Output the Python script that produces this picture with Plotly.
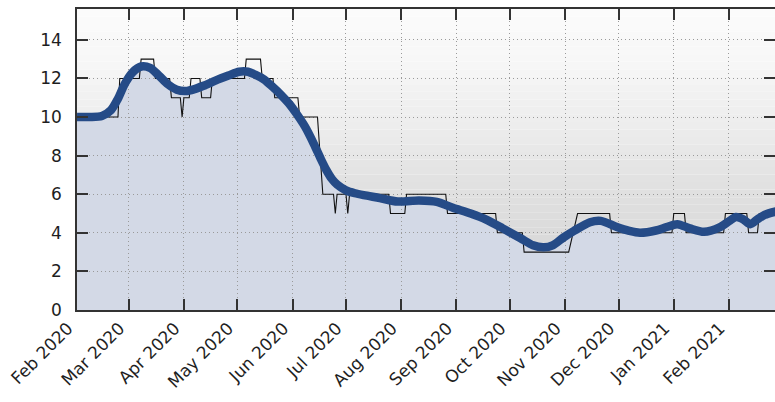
import numpy as np
import plotly.graph_objects as go

# ---- data ----
# stepped daily series: runs of constant value
step_start = ["2020-02-01", "2020-02-25", "2020-03-08", "2020-03-16", "2020-03-25", "2020-03-31",
              "2020-04-01", "2020-04-05", "2020-04-11", "2020-04-17", "2020-05-06", "2020-05-15",
              "2020-05-22", "2020-06-05", "2020-06-18", "2020-06-25", "2020-06-26", "2020-07-02",
              "2020-07-03", "2020-07-26", "2020-08-04", "2020-08-27", "2020-09-24", "2020-10-09",
              "2020-11-08", "2020-11-27", "2021-01-01", "2021-01-08", "2021-01-30", "2021-02-12",
              "2021-02-18"]
step_end = ["2020-02-24", "2020-03-07", "2020-03-15", "2020-03-24", "2020-03-30", "2020-03-31",
            "2020-04-04", "2020-04-10", "2020-04-16", "2020-05-05", "2020-05-14", "2020-05-21",
            "2020-06-04", "2020-06-15", "2020-06-24", "2020-06-25", "2020-07-01", "2020-07-02",
            "2020-07-25", "2020-08-03", "2020-08-26", "2020-09-23", "2020-10-08", "2020-11-03",
            "2020-11-26", "2020-12-31", "2021-01-07", "2021-01-29", "2021-02-11", "2021-02-17",
            "2021-02-28"]
step_value = [10, 12, 13, 12, 11, 10, 11, 12, 11, 12, 13, 12, 11, 10, 6, 5, 6, 5, 6, 5, 6, 5, 4, 3,
              5, 4, 5, 4, 5, 4, 5]

# smoothed trend
smooth_dates = ["2020-02-01", "2020-02-08", "2020-02-15", "2020-02-20", "2020-02-24", "2020-02-28",
                "2020-03-03", "2020-03-08", "2020-03-13", "2020-03-18", "2020-03-23", "2020-03-28",
                "2020-04-02", "2020-04-07", "2020-04-12", "2020-04-19", "2020-04-26", "2020-05-02",
                "2020-05-07", "2020-05-11", "2020-05-16", "2020-05-21", "2020-05-25", "2020-05-30",
                "2020-06-03", "2020-06-08", "2020-06-13", "2020-06-17", "2020-06-20", "2020-06-23",
                "2020-06-26", "2020-07-01", "2020-07-06", "2020-07-11", "2020-07-20", "2020-07-30",
                "2020-08-11", "2020-08-21", "2020-08-30", "2020-09-09", "2020-09-18", "2020-09-27",
                "2020-10-07", "2020-10-14", "2020-10-20", "2020-10-25", "2020-10-31", "2020-11-06",
                "2020-11-15", "2020-11-21", "2020-11-30", "2020-12-07", "2020-12-13", "2020-12-22",
                "2020-12-28", "2021-01-03", "2021-01-10", "2021-01-18", "2021-01-27", "2021-02-01",
                "2021-02-05", "2021-02-09", "2021-02-13", "2021-02-17", "2021-02-21", "2021-02-28"]
smooth_values = [10.0, 10.0, 10.05, 10.35, 10.95, 11.75,
                 12.3, 12.62, 12.55, 12.15, 11.7, 11.42,
                 11.35, 11.45, 11.62, 11.9, 12.15, 12.35,
                 12.35, 12.2, 11.95, 11.55, 11.2, 10.7,
                 10.2, 9.5, 8.6, 7.8, 7.25, 6.8,
                 6.5, 6.2, 6.05, 5.95, 5.8, 5.62,
                 5.67, 5.6, 5.3, 5.0, 4.67, 4.23,
                 3.72, 3.35, 3.25, 3.35, 3.75, 4.1,
                 4.55, 4.62, 4.3, 4.1, 4.0, 4.12,
                 4.3, 4.45, 4.23, 4.05, 4.3, 4.6,
                 4.82, 4.7, 4.45, 4.7, 4.93, 5.12]

y_ticks = [0, 2, 4, 6, 8, 10, 12, 14]
x_range = ["2020-02-01", "2021-02-26 20:00"]
y_range = [0, 15.6]

# ---- build stepped line points from runs ----
step_x, step_y = [], []
for s, e, v in zip(step_start, step_end, step_value):
    step_x.append(s)
    step_y.append(v)
    if e != s:
        step_x.append(e)
        step_y.append(v)

fig = go.Figure()

# filled area (lower subplot, below grid)
fig.add_trace(go.Scatter(x=smooth_dates, y=smooth_values, mode="lines",
                         line=dict(width=0, shape="spline", smoothing=0.8),
                         fill="tozeroy", fillcolor="#d3d9e6",
                         xaxis="x", yaxis="y", hoverinfo="skip", showlegend=False))
# stepped raw line (upper subplot)
fig.add_trace(go.Scatter(x=step_x, y=step_y, mode="lines",
                         line=dict(color="#111111", width=1.1),
                         xaxis="x2", yaxis="y2", showlegend=False))
# smooth thick line
fig.add_trace(go.Scatter(x=smooth_dates, y=smooth_values, mode="lines",
                         line=dict(color="#254b87", width=8.5, shape="spline", smoothing=0.8),
                         xaxis="x2", yaxis="y2", showlegend=False))

# background vertical gradient (paper coords)
stops_p = [0.0, 0.215, 0.43, 0.58, 0.73, 0.828, 1.0]
stops_g = [206, 217, 226, 235, 242, 247, 251]
n = 40
for i in range(n):
    y0 = i / n
    y1 = (i + 1) / n
    g = int(round(np.interp((y0 + y1) / 2, stops_p, stops_g)))
    fig.add_shape(type="rect", xref="paper", yref="paper", x0=0, x1=1, y0=y0, y1=y1,
                  fillcolor=f"rgb({g},{g},{g})", line=dict(width=0), layer="below")

font = dict(family="DejaVu Sans", size=17, color="#1e1e1e")
grid_kw = dict(showgrid=True, gridcolor="#9a9a9a", griddash="1px,3px", gridwidth=1)

fig.update_layout(
    width=775, height=402,
    margin=dict(l=77, r=0, t=9, b=92),
    paper_bgcolor="white",
    plot_bgcolor="rgba(0,0,0,0)",
    showlegend=False,
    xaxis=dict(type="date", range=x_range, visible=False, domain=[0, 1], anchor="y",
               automargin=False),
    yaxis=dict(range=y_range, visible=False, domain=[0, 1], anchor="x", automargin=False),
    xaxis2=dict(type="date", range=x_range, domain=[0, 1], anchor="y2", automargin=False,
                tick0="2020-02-01", dtick="M1", tickformat="%b %Y", tickangle=-45,
                ticks="inside", ticklen=11, tickwidth=1.6, tickcolor="#333333",
                showline=True, linecolor="#333333", linewidth=1.5, mirror="ticks",
                zeroline=False, tickfont=font, ticklabelshift=-9, **grid_kw),
    yaxis2=dict(range=y_range, domain=[0, 1], anchor="x2", automargin=False,
                tickvals=y_ticks, ticks="inside", ticklen=11, tickwidth=1.6, tickcolor="#333333",
                showline=True, linecolor="#333333", linewidth=1.5, mirror="ticks",
                zeroline=False, tickfont=font, ticklabelstandoff=10, **grid_kw),
)

fig.write_html("out.html", config={"displayModeBar": False},
               post_script="document.body.style.margin='0';document.body.style.overflow='hidden';")
